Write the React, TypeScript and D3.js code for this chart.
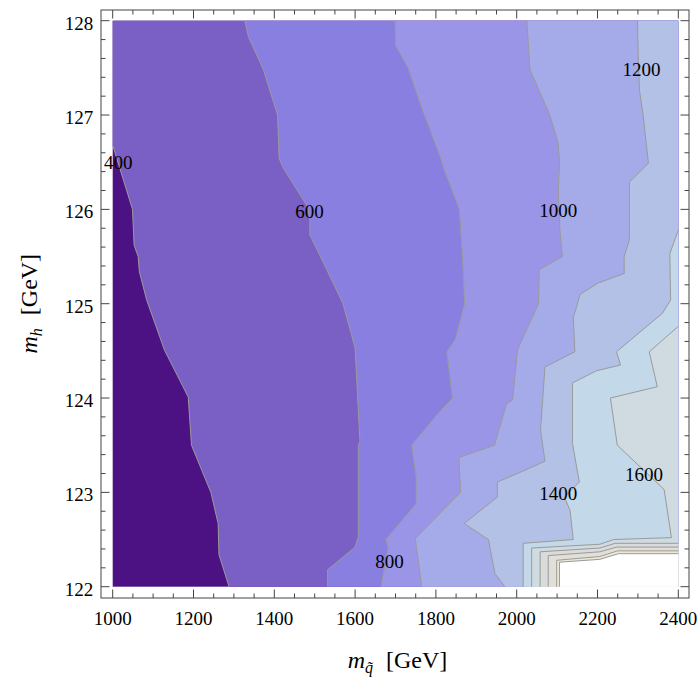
import * as d3 from "d3";
import { useEffect, useRef } from "react";

const W = 698;
const H = 682;

// contour levels (GeV) and fill colour of each band, lowest first
const levels = [400, 600, 800, 1000, 1200, 1400, 1600, 1800, 2000, 2200, 2400];
const bandColors = [
  "#4c1182", // < 400
  "#7a5fc5",
  "#897fe0",
  "#9a95e7",
  "#a5abe9",
  "#b3c1e7",
  "#c3d8e9",
  "#d0dbe1",
  "#d9dcdb",
  "#e2e0d6",
  "#ece8d7",
  "#ffffff", // > 2400
];

// contour lines, [m_squark, m_h]
const contour400 = [
  [1000, 126.68], [1049, 126.0], [1053, 125.62], [1063, 125.5], [1066, 125.34],
  [1084, 125.04], [1128, 124.51], [1187, 124.01], [1195, 123.5], [1243, 123.0],
  [1261, 122.67], [1263, 122.34], [1288, 122],
];
const contour600 = [
  [1327, 128], [1336, 127.83], [1373, 127.48], [1408, 127.0], [1412, 126.54],
  [1422, 126.44], [1482, 126.03], [1488, 125.9], [1488, 125.73], [1512, 125.52],
  [1570, 125.0], [1600, 124.53], [1612, 123.54], [1608, 123.5], [1608, 122.53],
  [1600, 122.42], [1532, 122.18], [1532, 122],
];
const contour800 = [
  [1699, 128], [1700, 127.74], [1731, 127.5], [1763, 127.1], [1814, 126.52],
  [1818, 126.45], [1858, 126.0], [1866, 125.5], [1871, 125.0], [1848, 124.62],
  [1827, 124.49], [1841, 124.0], [1802, 123.82], [1740, 123.5], [1751, 123.17],
  [1751, 122.88], [1676, 122.5], [1682, 122.42], [1664, 122],
];
const contour1000 = [
  [2025, 128], [2033, 127.48], [2082, 127.0], [2103, 126.7], [2106, 126.49],
  [2103, 126.2], [2107, 125.78], [2113, 125.5], [2056, 125.36], [2054, 125.0],
  [2002, 124.51], [1990, 123.98], [1975, 123.94], [1945, 123.5], [1857, 123.37],
  [1861, 123.0], [1749, 122.51], [1765, 122],
];
const contour1200 = [
  [2299, 128], [2301, 127.58], [2304, 127.26], [2313, 127.0], [2326, 126.49],
  [2279, 126.29], [2279, 125.68], [2266, 125.5], [2266, 125.32], [2202, 125.22],
  [2157, 125.1], [2140, 124.85], [2144, 124.49], [2070, 124.33], [2059, 123.66],
  [2070, 123.33], [2002, 123.2], [1952, 123.11], [1952, 122.95], [1870, 122.67],
  [1930, 122.5], [1946, 122.14], [1971, 122],
];
const contour1400 = [
  [2400, 125.78], [2379, 125.53], [2381, 125.04], [2361, 124.9], [2247, 124.49],
  [2257, 124.35], [2198, 124.29], [2138, 124.16], [2138, 123.52], [2155, 123.11],
  [2118, 122.95], [2132, 122.81], [2140, 122.5], [2016, 122.46], [2016, 122],
];
const contour1600 = [
  [2400, 124.76], [2328, 124.49], [2348, 124.12], [2232, 124.0], [2249, 123.5],
  [2365, 123.03], [2383, 122.52], [2240, 122.5], [2206, 122.45], [2037, 122.41],
  [2037, 122],
];
const contour1800 = [[2400, 122.46], [2244, 122.46], [2206, 122.41], [2058, 122.37], [2058, 122]];
const contour2000 = [[2400, 122.42], [2247, 122.42], [2206, 122.37], [2078, 122.33], [2078, 122]];
const contour2200 = [[2400, 122.38], [2250, 122.38], [2206, 122.32], [2099, 122.28], [2099, 122]];
const contour2400 = [[2400, 122.35], [2252, 122.35], [2206, 122.29], [2106, 122.26], [2106, 122]];

const contourLines = [
  contour400, contour600, contour800, contour1000, contour1200, contour1400,
  contour1600, contour1800, contour2000, contour2200, contour2400,
];

// inline contour labels (data coordinates of the label centre)
const contourLabels = [
  { level: 400, x: 1014, y: 126.5 },
  { level: 600, x: 1487, y: 125.97 },
  { level: 800, x: 1685, y: 122.27 },
  { level: 1000, x: 2103, y: 125.99 },
  { level: 1200, x: 2309, y: 127.48 },
  { level: 1400, x: 2103, y: 122.99 },
  { level: 1600, x: 2315, y: 123.19 },
];

const xTicks = [1000, 1200, 1400, 1600, 1800, 2000, 2200, 2400];
const yTicks = [122, 123, 124, 125, 126, 127, 128];

const FONT = "'Liberation Serif', 'Times New Roman', serif";

export default function App() {
  const ref = useRef<SVGSVGElement>(null);

  useEffect(() => {
    if (!ref.current) return;
    const svg = d3.select(ref.current);
    svg.selectAll("*").remove();

    const x = d3.scaleLinear().domain([1000, 2400]).range([112.7, 678.3]);
    const y = d3.scaleLinear().domain([122, 128]).range([586.7, 20.7]);
    const frame = { left: 101, right: 689, top: 10, bottom: 598 };

    const line = d3
      .line<number[]>()
      .x((d) => x(d[0]))
      .y((d) => y(d[1]));

    // close a contour line into the "above level" region (always lower right)
    const closeRing = (pts: number[][]) => {
      const [x0, y0] = pts[0];
      const ring = [...pts, [2400, 122]];
      if (y0 === 128 || x0 === 1000) ring.push([2400, 128]);
      if (x0 === 1000) ring.push([1000, 128]);
      return ring;
    };

    svg.append("rect").attr("width", W).attr("height", H).attr("fill", "#fff");

    // lowest band
    svg
      .append("rect")
      .attr("x", x(1000))
      .attr("y", y(128))
      .attr("width", x(2400) - x(1000))
      .attr("height", y(122) - y(128))
      .attr("fill", bandColors[0]);

    // bands
    contourLines.forEach((pts, i) => {
      svg
        .append("path")
        .attr("d", line(closeRing(pts)) + "Z")
        .attr("fill", bandColors[i + 1]);
    });

    // contour lines
    contourLines.forEach((pts) => {
      svg
        .append("path")
        .attr("d", line(pts))
        .attr("fill", "none")
        .attr("stroke", "#9a9a9a")
        .attr("stroke-width", 1);
    });

    // contour labels
    svg
      .selectAll(".clabel")
      .data(contourLabels)
      .enter()
      .append("text")
      .attr("x", (d) => x(d.x))
      .attr("y", (d) => y(d.y) + 6.3)
      .attr("text-anchor", "middle")
      .attr("font-family", FONT)
      .attr("font-size", 19)
      .attr("fill", "#000")
      .text((d) => String(d.level));

    // frame
    svg
      .append("rect")
      .attr("x", frame.left)
      .attr("y", frame.top)
      .attr("width", frame.right - frame.left)
      .attr("height", frame.bottom - frame.top)
      .attr("fill", "none")
      .attr("stroke", "#444")
      .attr("stroke-width", 1);

    const major = 8.5;
    const minor = 4.5;
    const xMinor = d3.range(1000, 2400.1, 50).filter((v) => v % 200 !== 0);
    const yMinor = d3.range(122, 128.01, 0.2).filter((v) => Math.abs(v - Math.round(v)) > 0.01);
    const ticks = svg.append("g").attr("stroke", "#444").attr("stroke-width", 1);

    const xTick = (v: number, len: number) => {
      ticks.append("line").attr("x1", x(v)).attr("x2", x(v)).attr("y1", frame.bottom).attr("y2", frame.bottom - len);
      ticks.append("line").attr("x1", x(v)).attr("x2", x(v)).attr("y1", frame.top).attr("y2", frame.top + len);
    };
    const yTick = (v: number, len: number) => {
      ticks.append("line").attr("y1", y(v)).attr("y2", y(v)).attr("x1", frame.left).attr("x2", frame.left + len);
      ticks.append("line").attr("y1", y(v)).attr("y2", y(v)).attr("x1", frame.right).attr("x2", frame.right - len);
    };
    xTicks.forEach((v) => xTick(v, major));
    xMinor.forEach((v) => xTick(v, minor));
    yTicks.forEach((v) => yTick(v, major));
    yMinor.forEach((v) => yTick(v, minor));

    // tick labels
    svg
      .selectAll(".xlab")
      .data(xTicks)
      .enter()
      .append("text")
      .attr("x", (d) => x(d))
      .attr("y", frame.bottom + 27)
      .attr("text-anchor", "middle")
      .attr("font-family", FONT)
      .attr("font-size", 19)
      .text((d) => String(d));

    svg
      .selectAll(".ylab")
      .data(yTicks)
      .enter()
      .append("text")
      .attr("x", frame.left - 7.7)
      .attr("y", (d) => y(d) + 9)
      .attr("text-anchor", "end")
      .attr("font-family", FONT)
      .attr("font-size", 19)
      .text((d) => String(d));

    // axis titles
    const xt = svg
      .append("text")
      .attr("x", (x(1000) + x(2400)) / 2 + 2)
      .attr("y", 668)
      .attr("text-anchor", "middle")
      .attr("font-family", FONT)
      .attr("font-size", 24);
    xt.append("tspan").attr("font-style", "italic").text("m");
    xt.append("tspan").attr("font-style", "italic").attr("font-size", 16).attr("dy", 5).text("q\u0303");
    xt.append("tspan").attr("dy", -5).attr("dx", 13).text("[GeV]");

    const yt = svg
      .append("text")
      .attr("transform", `translate(37,${(y(122) + y(128)) / 2}) rotate(-90)`)
      .attr("text-anchor", "middle")
      .attr("font-family", FONT)
      .attr("font-size", 24);
    yt.append("tspan").attr("font-style", "italic").text("m");
    yt.append("tspan").attr("font-style", "italic").attr("font-size", 16).attr("dy", 5).text("h");
    yt.append("tspan").attr("dy", -5).attr("dx", 13).text("[GeV]");
  }, []);

  return (
    <svg
      ref={ref}
      width={W}
      height={H}
      style={{ position: "absolute", left: 0, top: 0, display: "block" }}
    />
  );
}
